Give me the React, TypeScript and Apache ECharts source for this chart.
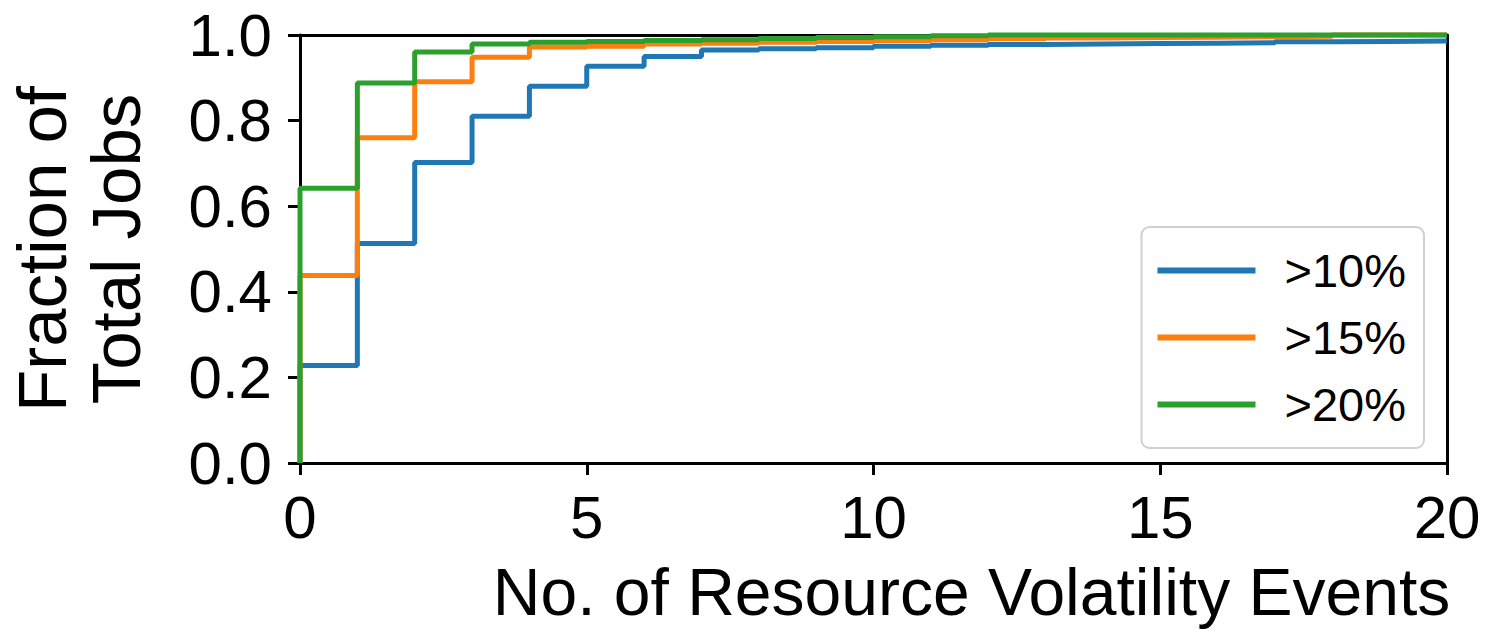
import React, { useEffect, useRef } from "react";
import * as echarts from "echarts";

const xEvents = [0, 1, 2, 3, 4, 5, 6, 7, 8, 9, 10, 11, 12, 13, 14, 15, 16, 17, 18, 19, 20];
const blueVals = [0.228, 0.513, 0.702, 0.81, 0.88, 0.927, 0.95, 0.965, 0.968, 0.97, 0.974, 0.976, 0.978, 0.979, 0.98, 0.981, 0.982, 0.984, 0.985, 0.986, 0.987];
const orangeVals = [0.438, 0.76, 0.891, 0.948, 0.972, 0.974, 0.979, 0.981, 0.983, 0.985, 0.987, 0.989, 0.991, 0.993, 0.994, 0.995, 0.996, 0.997, 1.0, 1.0, 1.0];
const greenVals = [0.642, 0.888, 0.96, 0.979, 0.983, 0.985, 0.987, 0.989, 0.992, 0.994, 0.996, 0.998, 1.0, 1.0, 1.0, 1.0, 1.0, 1.0, 1.0, 1.0, 1.0];
const seriesNames = [">10%", ">15%", ">20%"];
const seriesColors = ["#1f77b4", "#ff7f0e", "#2ca02c"];
const yTicks = ["0.0", "0.2", "0.4", "0.6", "0.8", "1.0"];

const FONT = "Liberation Sans, Arial, sans-serif";

function toSteps(vals: number[]) {
  const pts: [number, number][] = [[0, 0]];
  vals.forEach((v, i) => pts.push([xEvents[i], v]));
  return pts;
}

export default function App() {
  const ref = useRef<HTMLDivElement>(null);
  useEffect(() => {
    if (!ref.current) return;
    const chart = echarts.init(ref.current, undefined, { renderer: "svg" });
    const all = [blueVals, orangeVals, greenVals];
    const spine = { show: true, onZero: false, lineStyle: { color: "#000", width: 3 } };
    chart.setOption({
      animation: false,
      backgroundColor: "#ffffff",
      grid: { left: 300, top: 35, width: 1147, height: 428, containLabel: false, outerBoundsMode: "none" },
      xAxis: [
        {
          type: "value",
          min: 0,
          max: 20,
          interval: 5,
          name: "No. of Resource Volatility Events",
          nameLocation: "middle",
          nameGap: 96,
          nameTextStyle: { fontFamily: FONT, fontSize: 66, color: "#000", align: "center", padding: [0, 0, 0, 196] },
          axisLine: spine,
          axisTick: { show: true, inside: false, length: 12, lineStyle: { color: "#000", width: 3 } },
          axisLabel: { fontFamily: FONT, fontSize: 60, color: "#000", margin: 24 },
          splitLine: { show: false },
        },
        {
          type: "value",
          min: 0,
          max: 20,
          position: "top",
          axisLine: spine,
          axisTick: { show: false },
          axisLabel: { show: false },
          splitLine: { show: false },
        },
      ],
      yAxis: [
        {
          type: "value",
          min: 0,
          max: 1,
          interval: 0.2,
          name: "Fraction of\nTotal Jobs",
          nameLocation: "middle",
          nameGap: 147,
          nameRotate: 90,
          nameTextStyle: { fontFamily: FONT, fontSize: 69, color: "#000", lineHeight: 74 },
          axisLine: spine,
          axisTick: { show: true, inside: false, length: 12, lineStyle: { color: "#000", width: 3 } },
          axisLabel: {
            fontFamily: FONT,
            fontSize: 60,
            color: "#000",
            margin: 28,
            formatter: (v: number) => yTicks[Math.round(v / 0.2)] ?? v.toFixed(1),
          },
          splitLine: { show: false },
        },
        {
          type: "value",
          min: 0,
          max: 1,
          position: "right",
          axisLine: spine,
          axisTick: { show: false },
          axisLabel: { show: false },
          splitLine: { show: false },
        },
      ],
      legend: {
        show: true,
        right: 80,
        top: 227,
        orient: "vertical",
        itemWidth: 98,
        itemHeight: 6,
        itemGap: 20,
        icon: "rect",
        padding: [20, 18, 20, 16],
        borderColor: "#d0d0d0",
        borderWidth: 2,
        borderRadius: 8,
        backgroundColor: "#fff",
        textStyle: { fontFamily: FONT, fontSize: 47, color: "#000", padding: [0, 0, 0, 24] },
        data: seriesNames,
      },
      series: seriesNames.map((name, i) => ({
        name,
        type: "line",
        step: "end",
        showSymbol: false,
        symbol: "none",
        clip: false,
        z: 1,
        data: toSteps(all[i]),
        lineStyle: { color: seriesColors[i], width: 5 },
        itemStyle: { color: seriesColors[i] },
      })),
    });
    return () => chart.dispose();
  }, []);
  return (
    <div style={{ position: "fixed", left: 0, top: 0, width: 1504, height: 633, background: "#fff" }}>
      <div ref={ref} style={{ width: 1504, height: 633 }} />
    </div>
  );
}
